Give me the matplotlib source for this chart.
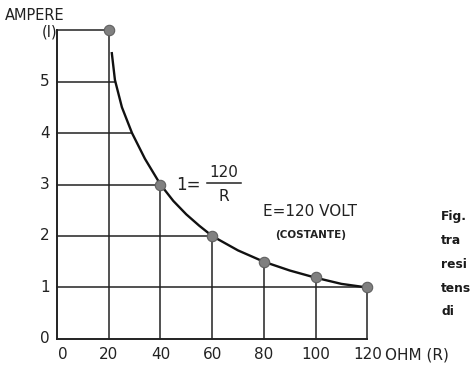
import matplotlib.pyplot as plt
import numpy as np

# data points (R in ohm, I in ampere)
ohm = [20, 40, 60, 80, 100, 120]
amp = [6.0, 3.0, 2.0, 1.5, 1.2, 1.0]

# hand drawn curve
curve_r = [21.2, 22.4, 25.1, 29.0, 34.0, 40.0, 45, 50, 55, 60, 70, 80, 90, 100, 110, 120]
curve_i = [5.55, 5.03, 4.50, 4.00, 3.50, 3.00, 2.68, 2.42, 2.20, 2.00, 1.72, 1.50, 1.33, 1.19, 1.07, 1.00]

x_ticks = [0, 20, 40, 60, 80, 100, 120]
y_ticks = [0, 1, 2, 3, 4, 5]

# where each horizontal grid line hits the curve
h_levels = [1, 2, 3, 4, 5, 6]
h_ends = [120, 60, 40, 28.5, 22.3, 20]

caption = ["Fig.", "tra", "resi", "tens", "di"]

ink = '#222222'
dot = '#808080'

fig = plt.figure(figsize=(4.72, 3.69), dpi=100)
ax = fig.add_axes([0, 0, 1, 1])
ax.set_xlim(-22.05, 160.5)
ax.set_ylim(-0.583, 6.583)
ax.axis('off')

# axes
ax.plot([0, 0], [0, 6], color=ink, lw=1.4)
ax.plot([0, 120], [0, 0], color=ink, lw=1.4)

# partial grid under the curve
for lev, end in zip(h_levels, h_ends):
    ax.plot([0, end], [lev, lev], color=ink, lw=1.1)
for r, i in zip(ohm, amp):
    ax.plot([r, r], [0, i], color=ink, lw=1.1)

ax.plot(curve_r, curve_i, color='#111111', lw=1.7)
ax.plot(ohm, amp, 'o', ms=7.5, color=dot, mec='#606060', mew=0.8, zorder=5)

fs = 11
for t in y_ticks:
    ax.text(-2.9, t, str(t), ha='right', va='center', fontsize=fs, color=ink)
for t in x_ticks:
    # the "0" sits a little right of the origin in the drawing
    xpos = t + 2.3 if t == 0 else t
    ax.text(xpos, -0.31, str(t), ha='center', va='center', fontsize=fs, color=ink)

ax.text(-8.8, 6.29, 'AMPERE', ha='center', va='center', fontsize=10.5, color=ink)
ax.text(0.3, 5.96, '(I)', ha='right', va='center', fontsize=10.5, color=ink)
ax.text(126.9, -0.31, 'OHM (R)', ha='left', va='center', fontsize=fs, color=ink)

# I = 120 / R
ax.text(50.7, 2.99, '1=', ha='center', va='center', fontsize=12, color=ink)
ax.text(64.6, 3.24, '120', ha='center', va='center', fontsize=11, color=ink)
ax.plot([58.0, 71.2], [3.03, 3.03], color=ink, lw=1.1)
ax.text(64.6, 2.76, 'R', ha='center', va='center', fontsize=11, color=ink)

ax.text(97.9, 2.47, 'E=120 VOLT', ha='center', va='center', fontsize=11, color=ink)
ax.text(97.9, 2.02, '(COSTANTE)', ha='center', va='center', fontsize=7.5,
        fontweight='bold', color=ink)

for k, line in enumerate(caption):
    ax.text(148.6, 2.37 - k * 0.46, line, ha='left', va='center', fontsize=8.8,
            fontweight='bold', color='#1a1a1a')

fig.savefig('out.png', dpi=100)
